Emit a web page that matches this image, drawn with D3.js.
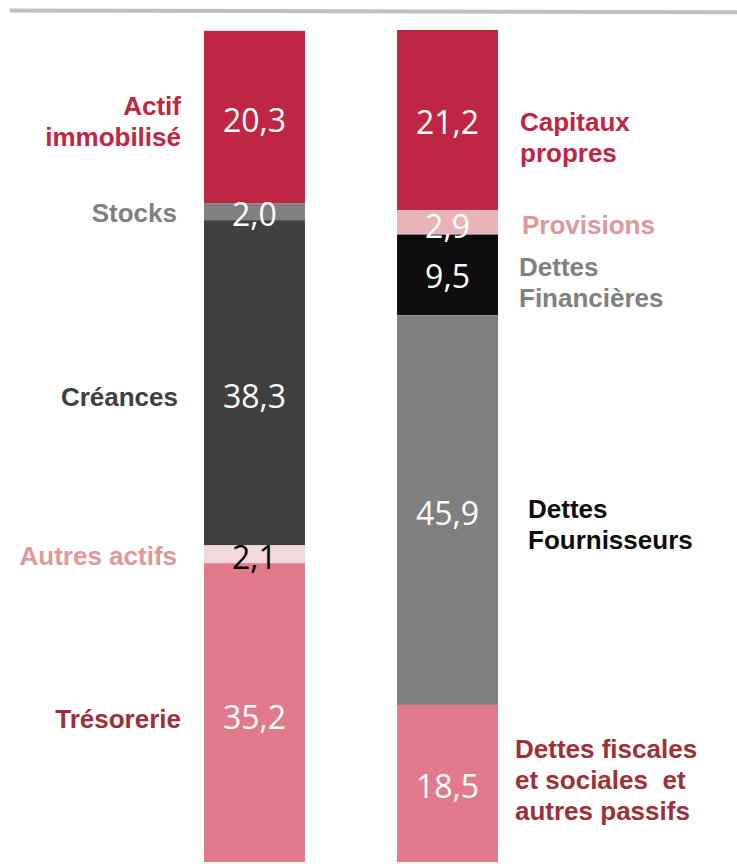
<!DOCTYPE html>
<html lang="fr">
<head>
<meta charset="UTF-8">
<title>Bilan simplifié</title>
<script src="https://d3js.org/d3.v7.min.js"></script>
<style>
  body { margin: 0; background: #fff; }
  .value { font-family: "Open Sans", sans-serif; font-size: 32px; }
  .label { font-family: "Liberation Sans", Arial, sans-serif; font-weight: bold; font-size: 26px; }
</style>
</head>
<body>
<svg width="737" height="864"></svg>
<script>
// data, top segment first
const bars = ["Actif", "Passif"];

const actifNames  = ["Actif immobilisé", "Stocks", "Créances", "Autres actifs", "Trésorerie"];
const actifValues = [20.3, 2.0, 38.3, 2.1, 35.2];

const passifNames  = ["Capitaux propres", "Provisions", "Dettes Financières", "Dettes Fournisseurs", "Dettes fiscales et sociales  et autres passifs"];
const passifValues = [21.2, 2.9, 9.5, 45.9, 18.5];

// label line breaks
const actifLines = [["Actif", "immobilisé"], ["Stocks"], ["Créances"], ["Autres actifs"], ["Trésorerie"]];
const passifLines = [["Capitaux", "propres"], ["Provisions"], ["Dettes", "Financières"], ["Dettes", "Fournisseurs"], ["Dettes fiscales", "et sociales  et", "autres passifs"]];

// styles
const actifFill  = ["#be2644", "#808080", "#404040", "#f2d9db", "#e27a8c"];
const passifFill = ["#be2644", "#e8b4b8", "#0d0d0d", "#808080", "#e27a8c"];
const actifValueColor  = ["#fff", "#fff", "#fff", "#000", "#fff"];
const passifValueColor = ["#fff", "#fff", "#fff", "#fff", "#fff"];
const actifLabelColor  = ["#be2644", "#808080", "#404040", "#e0979d", "#9e3038"];
const passifLabelColor = ["#be2644", "#e0979d", "#808080", "#0d0d0d", "#9e3038"];

// manual nudges (px) relative to segment centre
const actifValueDy  = [2, 2, 13, 2, 4];
const passifValueDy = [2, 3, 1, 2, 2];
const actifLabelDy  = [4, 1, 14, 2, 6];
const passifLabelDy = [18, 3, 8, 14, -3];
const actifLabelX  = [181, 177, 178, 177, 181];
const passifLabelX = [520, 522, 519, 528, 515];

const svg = d3.select("svg");

const x = d3.scaleBand().domain(bars).range([204, 498]).paddingInner(0.477);
const y = d3.scaleLinear().domain([0, 100]).range([862, 13]);

// top rule
svg.append("line")
  .attr("x1", 10).attr("y1", 10.5)
  .attr("x2", 737).attr("y2", 12.2)
  .attr("stroke", "#c0c0c0")
  .attr("stroke-width", 4);

function drawBar(key, names, values, fills, valueColors, labelColors, lines, valueDy, labelDy, labelX, anchor) {
  const total = d3.sum(values);
  let acc = 0;
  const segs = values.map((v, i) => {
    const top = total - acc;
    acc += v;
    return { name: names[i], v, top, bottom: total - acc, i };
  });

  const g = svg.append("g");

  g.selectAll("rect")
    .data(segs)
    .join("rect")
    .attr("x", x(key))
    .attr("width", x.bandwidth())
    .attr("y", d => y(d.top))
    .attr("height", d => y(d.bottom) - y(d.top))
    .attr("fill", d => fills[d.i]);

  g.selectAll("text.value")
    .data(segs)
    .join("text")
    .attr("class", "value")
    .attr("x", x(key) + x.bandwidth() / 2)
    .attr("y", d => (y(d.top) + y(d.bottom)) / 2 + valueDy[d.i])
    .attr("text-anchor", "middle")
    .attr("dominant-baseline", "central")
    .attr("fill", d => valueColors[d.i])
    .text(d => d3.format(".1f")(d.v).replace(".", ","));

  const lh = 31;
  segs.forEach(d => {
    const ls = lines[d.i];
    const cy = (y(d.top) + y(d.bottom)) / 2 + labelDy[d.i];
    const t = g.append("text")
      .attr("class", "label")
      .attr("text-anchor", anchor)
      .attr("fill", labelColors[d.i])
      .attr("xml:space", "preserve");
    ls.forEach((line, k) => {
      t.append("tspan")
        .attr("x", labelX[d.i])
        .attr("y", cy + (k - (ls.length - 1) / 2) * lh)
        .attr("dominant-baseline", "central")
        .text(line);
    });
  });
}

drawBar("Actif", actifNames, actifValues, actifFill, actifValueColor, actifLabelColor, actifLines, actifValueDy, actifLabelDy, actifLabelX, "end");
drawBar("Passif", passifNames, passifValues, passifFill, passifValueColor, passifLabelColor, passifLines, passifValueDy, passifLabelDy, passifLabelX, "start");
</script>
</body>
</html>
